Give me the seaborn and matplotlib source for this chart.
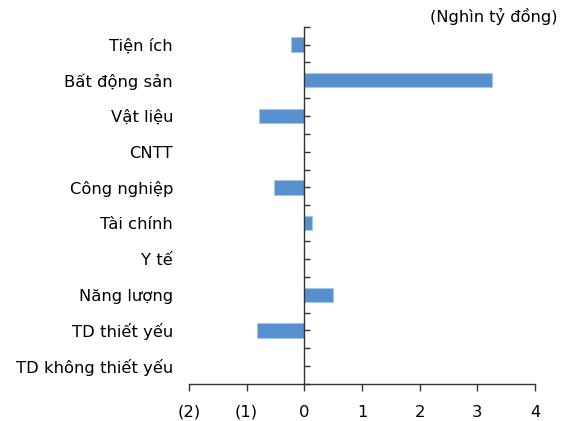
import matplotlib
matplotlib.use("Agg")
import matplotlib.pyplot as plt
import seaborn as sns
import pandas as pd
import numpy as np
from matplotlib.ticker import FixedLocator

categories = ["Tiện ích", "Bất động sản", "Vật liệu", "CNTT", "Công nghiệp",
              "Tài chính", "Y tế", "Năng lượng", "TD thiết yếu", "TD không thiết yếu"]
values = [-0.23, 3.25, -0.78, 0.0, -0.53, 0.14, 0.0, 0.50, -0.82, 0.0]
xticks = [-2, -1, 0, 1, 2, 3, 4]
xticklabels = ["(2)", "(1)", "0", "1", "2", "3", "4"]
unit_label = "(Nghìn tỷ đồng)"

sns.set_style("white")
plt.rcParams['font.family'] = ['DejaVu Sans']
plt.rcParams['text.color'] = 'black'
plt.rcParams['xtick.color'] = '#333333'
plt.rcParams['ytick.color'] = '#333333'
plt.rcParams['xtick.labelcolor'] = 'black'
plt.rcParams['ytick.labelcolor'] = 'black'

FS = 11.8

df = pd.DataFrame({"cat": categories, "val": values})

fig = plt.figure(figsize=(5.66, 4.21), dpi=100)
ax = fig.add_axes([189/566, 37/421, (535-189)/566, (384-26.7)/421])

sns.barplot(data=df, x="val", y="cat", orient="h", color="#5690CF",
            saturation=1, width=0.4, edgecolor="#A8C6E6", linewidth=0.8, ax=ax)

ax.set_xlim(-2, 4)
ax.set_ylim(len(categories) - 0.5, -0.5)
ax.set_xlabel("")
ax.set_ylabel("")
ax.set_xticks(xticks)
ax.set_xticklabels(xticklabels, fontsize=FS)

# spines
ax.spines['top'].set_visible(False)
ax.spines['left'].set_visible(False)
ax.spines['right'].set_position(('data', 0))
for s in ['right', 'bottom']:
    ax.spines[s].set_color('#333333')
    ax.spines[s].set_linewidth(1.0)

ax.tick_params(axis='x', direction='out', length=5, width=1,
               pad=10, labelsize=FS, bottom=True)
ax.tick_params(axis='y', which='major', left=False, right=True, labelleft=True,
               labelright=False, direction='out', length=4, width=1,
               pad=7.5, labelsize=FS)
ax.yaxis.set_minor_locator(FixedLocator(np.arange(-0.5, len(categories), 1.0)))
ax.tick_params(axis='y', which='minor', right=True, left=False, direction='out',
               length=4, width=1)
for lbl in ax.get_yticklabels():
    lbl.set_fontsize(FS)

fig.text(557/566, (421-16)/421, unit_label, ha='right', va='center', fontsize=11.7)

fig.savefig("out.png", dpi=100)
